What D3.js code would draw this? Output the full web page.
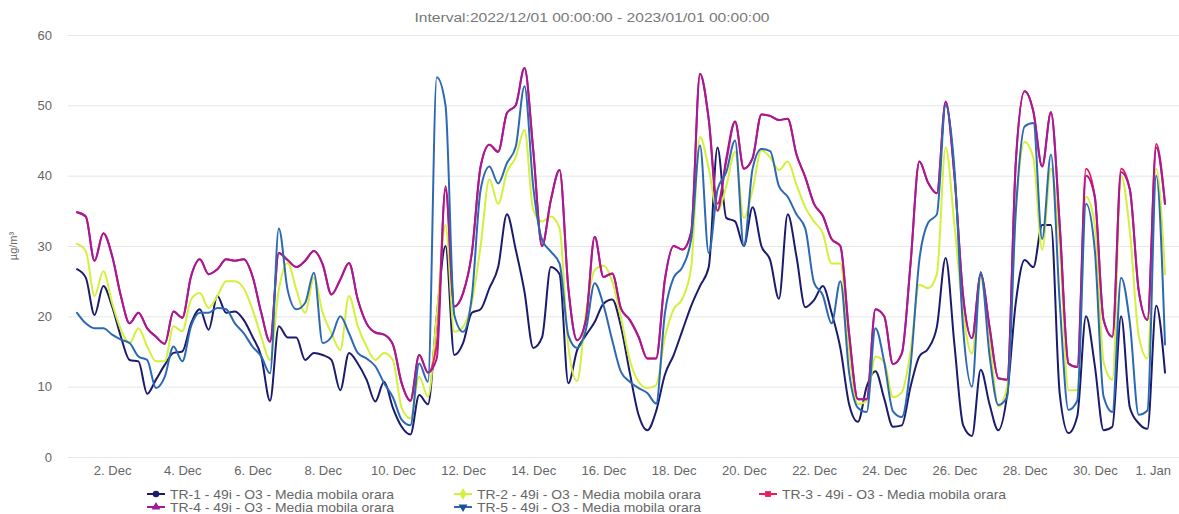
<!DOCTYPE html>
<html lang="en">
<head>
<meta charset="UTF-8">
<title>O3 - Media mobila orara</title>
<script src="https://cdn.jsdelivr.net/npm/d3@7"></script>
<style>
  html, body { margin: 0; padding: 0; background: #fff; }
  svg { display: block; font-family: "Liberation Sans", Arial, sans-serif; }
</style>
</head>
<body>
<svg id="chart" width="1179" height="514"></svg>
<script>
// hourly moving average, sampled every 6 hours from 2022-12-01 00:00
const startTime = Date.UTC(2022, 11, 1);
const stepHours = 6;

const seriesNames = [
  "TR-1 - 49i - O3 - Media mobila orara",
  "TR-2 - 49i - O3 - Media mobila orara",
  "TR-3 - 49i - O3 - Media mobila orara",
  "TR-4 - 49i - O3 - Media mobila orara",
  "TR-5 - 49i - O3 - Media mobila orara"
];
const seriesColors = ["#1b1b6e", "#d3f03a", "#ee1b5c", "#a31a97", "#2d69b3"];
const seriesSymbols = [d3.symbolCircle, d3.symbolDiamond, d3.symbolSquare, d3.symbolTriangle, d3.symbolTriangle];

const tr1 = [
  26.7, 25.5, 20.2, 24.3,  21.4, 17.1, 13.8, 13.6,  9, 11, 13.1, 14.8,  15, 19, 21, 18.1,
  22.9, 20.5, 20.7, 19.5,  17.1, 14.3, 8, 18.6,  17, 17, 13.8, 14.8,  14.5, 13.8, 9.5, 14.8,
  13.3, 11, 7.9, 10.7,  7, 4.3, 3.2, 8.8,  7.5, 20, 30, 14.5,  16.2, 20.5, 21, 24,
  27, 34.5, 29.5, 23.5,  15.5, 17, 27, 26,  10.5, 15.2, 17.3, 19.2,  21.8, 22.4, 18.5, 12,
  6, 3.8, 6.5, 11.7,  14.5, 18, 21.5, 24.3,  27, 44, 34, 33.5,  30, 35.5, 30, 28,
  22.5, 34.5, 28.5, 21.3,  22.3, 24.3, 20.5, 15.5,  7.5, 5, 10, 12.2,  8.3, 4.3, 4.5, 10,
  14.3, 15.4, 18.5, 28.3,  16, 4.5, 3, 12.4,  7.5, 3.8, 8.8, 22,  28, 27, 33, 33,
  9, 3.4, 5.8, 20,  13, 3.8, 4.3, 20,  7, 4.8, 4, 21.5,  12
];
const tr2 = [
  30.3, 29.3, 22.9, 26.4,  21.9, 18.1, 16.2, 18.3,  15.7, 13.6, 13.6, 18.6,  17.9, 22.4, 23.3, 21.2,
  22.9, 25, 25, 24,  21, 17.1, 13.8, 23.8,  27.6, 23.8, 20.5, 25.5,  20.5, 17.6, 15.2, 22.9,
  18.6, 15.7, 13.8, 14.8,  13.8, 7, 5.5, 11.4,  8.6, 20, 33, 17.8,  18.5, 22, 30, 39.5,
  36, 40.5, 42.6, 46.5,  35.1, 33.5, 34.2, 32.5,  15.7, 10.8, 20.5, 26.6,  27.2, 25, 19.8, 13.8,
  10.7, 9.8, 10.2, 17,  21, 22.5, 27, 45.5,  41, 35, 38.5, 43.4,  34, 38, 43.6, 42.6,
  40.8, 42, 38.7, 35.5,  33.5, 31.8, 27.5, 27.5,  15, 7.5, 8, 14.3,  13.5, 8.5, 9.2, 15,
  24.5, 24, 26, 44,  33, 20.4, 14.7, 25.2,  17, 7.2, 10, 35,  44.8, 42.5, 29.5, 41,
  30, 9.5, 9.5, 37,  33, 13.5, 11, 40,  32, 17.3, 14, 41,  26
];
const tr3 = [
  34.8, 34.2, 27.9, 31.8,  28.6, 22.9, 19, 20.5,  18.3, 17.1, 16.1, 20.7,  19.8, 25.7, 28.1, 26,
  26.7, 28.1, 27.9, 28.1,  25.7, 20.5, 16.4, 29,  28, 27, 27.9, 29.3,  27.4, 23.1, 25.2, 27.6,
  22.4, 19, 17.7, 17.4,  16, 10.5, 8, 14.5,  12, 16, 38, 21.4,  23.3, 29, 41.3, 44.4,
  43.4, 48.9, 50, 55.3,  43.6, 30, 36.5, 40.8,  24, 16.6, 19.5, 31.3,  25.6, 26.1, 21.1, 19.5,
  17.1, 14, 14, 25.2,  30, 29.5, 32, 54.5,  48, 36, 42, 47.7,  41, 42.5, 48.7, 48.5,
  47.9, 48.1, 43, 39.8,  36, 34.3, 31, 30,  17.5, 8.2, 8.2, 21,  20, 13.2, 14.7, 27.5,
  42, 39, 37.5, 50.5,  40, 22.8, 16.9, 26,  18.5, 11.2, 11, 42,  52, 49.1, 41.3, 49,
  33, 13.3, 12.8, 41,  37, 19.5, 17.1, 41,  38, 23.7, 19.5, 44.5,  36
];
const tr4 = [
  34.8, 34.2, 27.9, 31.8,  28.6, 22.9, 19, 20.5,  18.3, 17.1, 16.1, 20.7,  19.8, 25.7, 28.1, 26,
  26.7, 28.1, 27.9, 28.1,  25.7, 20.5, 16.4, 29,  28, 27, 27.9, 29.3,  27.4, 23.1, 25.2, 27.6,
  22.4, 19, 17.7, 17.4,  16, 10.5, 8, 14.5,  12, 14, 38.5, 21.4,  23.3, 29, 41.3, 44.4,
  43.4, 48.9, 50, 55.3,  43.6, 30, 36.5, 40.8,  24, 16.6, 19.5, 31.3,  25.6, 26.1, 21.1, 19.5,
  17.1, 14, 14, 25.2,  30, 29.5, 32, 54.5,  48, 35, 42.5, 47.7,  41, 42.5, 48.7, 48.5,
  47.9, 48.1, 43, 39.8,  36, 34.3, 31, 30,  17.5, 8.2, 8.2, 21,  20, 13.2, 14.7, 27.5,
  42, 39, 37.5, 50.5,  40, 22.8, 16.9, 26,  18.5, 11.2, 11, 42,  52, 49.1, 41.3, 49,
  33, 13.3, 12.8, 40,  37, 19.5, 17.1, 40.5,  38, 23.7, 19.5, 44,  36
];
const tr5 = [
  20.5, 19, 18.3, 18.3,  17.4, 16.7, 16.2, 14.3,  13.8, 9.8, 11.4, 15.7,  13.6, 18.6, 20.5, 20.5,
  21.2, 21, 19, 17.6,  15.7, 14.3, 11.9, 32.5,  23.8, 21, 21.9, 26.2,  16.2, 17.1, 20, 17.6,
  14.8, 14, 12.9, 10.5,  8.5, 5.3, 4.5, 13.3,  10.7, 54, 50, 20.2,  17.8, 22.8, 38, 41.3,
  38.9, 41.8, 44.1, 52.7,  38.4, 30.9, 29.2, 27.5,  17.3, 15.5, 18.1, 24.7,  21.6, 16.6, 12.1, 10.7,
  9.8, 9.1, 7.6, 20.4,  25.5, 27, 31, 44.3,  29, 38, 40.5, 45,  30, 41, 43.8, 43.5,
  38.5, 37, 34.5, 32.5,  24.8, 23, 19, 25,  12, 7, 6.4, 18.3,  13.5, 6.5, 5.7, 13,
  28, 33.3, 34.5, 50,  41, 18.1, 10, 26.3,  14.5, 7.4, 8.5, 35,  47, 47.5, 31, 43,
  22, 6.7, 8, 36,  29.4, 8.6, 6.4, 25.5,  19, 6, 6.6, 40,  16
];
const seriesValues = [tr1, tr2, tr3, tr4, tr5];

const yTicks = [0, 10, 20, 30, 40, 50, 60];
const xTickDates = ["2022-12-02", "2022-12-04", "2022-12-06", "2022-12-08", "2022-12-10",
  "2022-12-12", "2022-12-14", "2022-12-16", "2022-12-18", "2022-12-20", "2022-12-22",
  "2022-12-24", "2022-12-26", "2022-12-28", "2022-12-30", "2023-01-01"];
const xTickLabels = ["2. Dec", "4. Dec", "6. Dec", "8. Dec", "10. Dec", "12. Dec", "14. Dec",
  "16. Dec", "18. Dec", "20. Dec", "22. Dec", "24. Dec", "26. Dec", "28. Dec", "30. Dec", "1. Jan"];

const titleText = "Interval:2022/12/01 00:00:00 - 2023/01/01 00:00:00";
const yTitle = "µg/m³";

const W = 1179, H = 514;
const plot = { left: 68, right: 1179, top: 35, bottom: 457 };

const svg = d3.select("#chart");
svg.append("rect").attr("width", W).attr("height", H).attr("fill", "#fff");

const x = d3.scaleUtc()
  .domain([new Date(startTime), new Date(Date.UTC(2023, 0, 1))])
  .range([77, 1165]);
const y = d3.scaleLinear().domain([0, 60]).range([plot.bottom, plot.top]);

// grid + y labels
const yAxis = svg.append("g")
  .attr("transform", `translate(${plot.left},0)`)
  .call(d3.axisLeft(y).tickValues(yTicks).tickSize(-(plot.right - plot.left)).tickPadding(16));
yAxis.select(".domain").remove();
yAxis.selectAll(".tick line").attr("stroke", "#e6e6e6").attr("stroke-width", 1);
yAxis.selectAll(".tick text")
  .attr("fill", "#666").attr("font-size", 13)
  .attr("font-family", "Liberation Sans, Arial, sans-serif");

// x labels
const xAxis = svg.append("g")
  .attr("transform", `translate(0,${plot.bottom})`)
  .call(d3.axisBottom(x)
    .tickValues(xTickDates.map(s => new Date(s + "T00:00:00Z")))
    .tickFormat((d, i) => xTickLabels[i])
    .tickSize(0).tickPadding(9));
xAxis.select(".domain").remove();
xAxis.selectAll(".tick text")
  .attr("fill", "#666").attr("font-size", 13)
  .attr("font-family", "Liberation Sans, Arial, sans-serif");
// keep the last label inside the chart
xAxis.selectAll(".tick text").each(function () {
  const box = this.getBBox();
  const tx = d3.select(this.parentNode).attr("transform");
  const px = +tx.match(/translate\(([-\d.]+)/)[1];
  const over = px + box.x + box.width - (W - 8);
  if (over > 0) d3.select(this).attr("x", -over);
});

// title
svg.append("text")
  .attr("x", 592).attr("y", 22)
  .attr("text-anchor", "middle")
  .attr("fill", "#777").attr("font-size", 12)
  .attr("textLength", 355).attr("lengthAdjust", "spacingAndGlyphs")
  .text(titleText);

// y title
svg.append("text")
  .attr("transform", "translate(17,246) rotate(-90)")
  .attr("text-anchor", "middle")
  .attr("fill", "#666").attr("font-size", 11)
  .text(yTitle);

// lines
const line = d3.line()
  .x((d, i) => x(new Date(startTime + i * stepHours * 3600 * 1000)))
  .y(d => y(d))
  .curve(d3.curveMonotoneX);

svg.append("g")
  .selectAll("path")
  .data(seriesValues)
  .join("path")
  .attr("d", line)
  .attr("fill", "none")
  .attr("stroke", (d, i) => seriesColors[i])
  .attr("stroke-width", 2)
  .attr("stroke-linejoin", "round")
  .attr("stroke-linecap", "round");

// legend
const legendPos = [[147, 494], [454, 494], [759, 494], [147, 507], [454, 507]];
const legend = svg.append("g");
seriesNames.forEach((name, i) => {
  const [lx, ly] = legendPos[i];
  const g = legend.append("g").attr("transform", `translate(${lx},${ly})`);
  g.append("line").attr("x1", 0).attr("x2", 18).attr("y1", 0).attr("y2", 0)
    .attr("stroke", seriesColors[i]).attr("stroke-width", 2);
  g.append("path")
    .attr("d", d3.symbol().type(seriesSymbols[i]).size(i === 1 ? 40 : 34)())
    .attr("transform", `translate(9,0)${i === 4 ? " rotate(180)" : ""}`)
    .attr("fill", i === 4 ? "#1f4f9a" : seriesColors[i]);
  g.append("text").attr("x", 23).attr("y", 4.5)
    .attr("fill", "#666").attr("font-size", 13)
    .attr("textLength", 224).attr("lengthAdjust", "spacingAndGlyphs")
    .text(name);
});
</script>
</body>
</html>
